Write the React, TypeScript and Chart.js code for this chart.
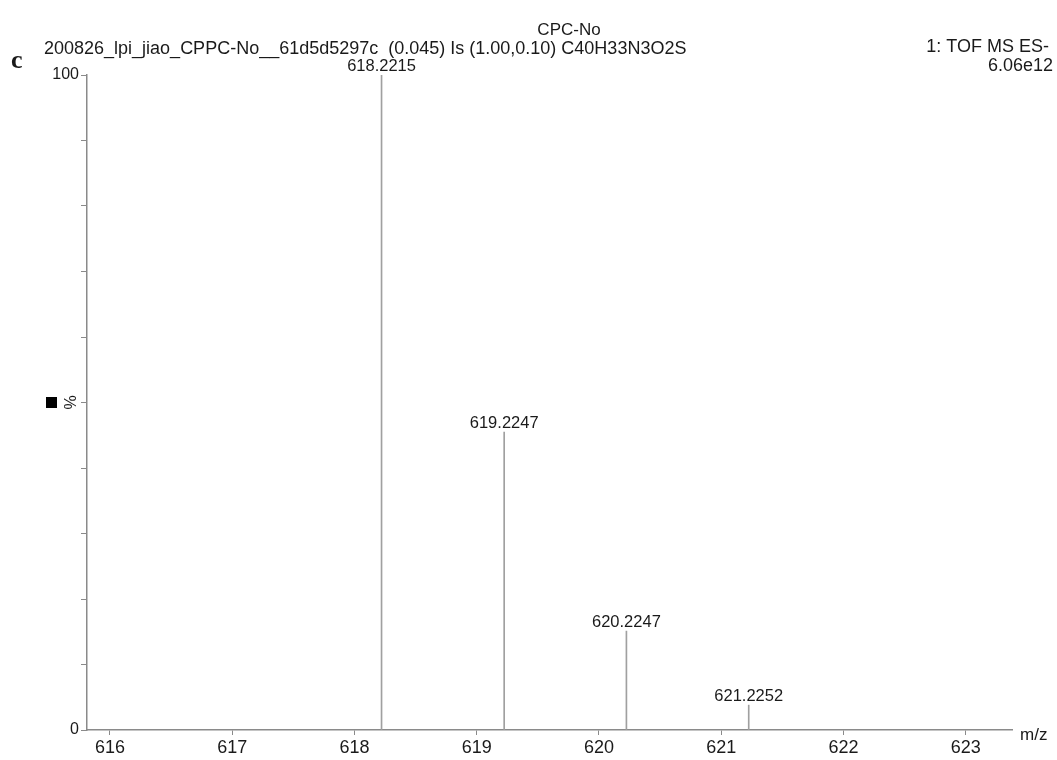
import React, { useEffect, useRef } from "react";
import { Chart, registerables } from "chart.js";

Chart.register(...registerables);

const peakMz = [618.2215, 619.2247, 620.2247, 621.2252];
const peakIntensity = [100, 45.5, 15.1, 3.8];
const peakLabels = ["618.2215", "619.2247", "620.2247", "621.2252"];
const xTicks = [616, 617, 618, 619, 620, 621, 622, 623];
const yTickLabels = [0, 100];

const titleText = "CPC-No";
const subtitleText = "200826_lpi_jiao_CPPC-No__61d5d5297c  (0.045) Is (1.00,0.10) C40H33N3O2S";
const instrumentText = "1: TOF MS ES-";
const scaleText = "6.06e12";
const panelLetter = "c";
const xAxisTitle = "m/z";
const yAxisTitle = "%";

const FONT = "'Liberation Sans', Arial, sans-serif";
const AXIS = "#8a8a8a";
const TEXT = "#1a1a1a";

export default function App() {
  const ref = useRef<HTMLCanvasElement | null>(null);

  useEffect(() => {
    const canvas = ref.current;
    if (!canvas) return;

    const overlay = {
      id: "overlay",
      afterDraw(chart: any) {
        const ctx = chart.ctx;
        const area = chart.chartArea;
        ctx.save();
        ctx.fillStyle = TEXT;
        ctx.textBaseline = "middle";
        // header
        ctx.font = `17px ${FONT}`;
        ctx.textAlign = "center";
        ctx.fillText(titleText, 569, 30);
        ctx.font = `18px ${FONT}`;
        ctx.textAlign = "left";
        ctx.fillText(subtitleText, 44, 49);
        ctx.textAlign = "right";
        ctx.fillText(instrumentText, 1049, 47);
        ctx.fillText(scaleText, 1053, 66);
        // panel letter
        ctx.textAlign = "left";
        ctx.font = `bold 26px 'Liberation Serif', 'Times New Roman', serif`;
        ctx.fillText(panelLetter, 11, 61);
        // peak labels
        ctx.font = `16.5px ${FONT}`;
        ctx.textAlign = "center";
        ctx.textBaseline = "alphabetic";
        const meta = chart.getDatasetMeta(0);
        meta.data.forEach((el: any, i: number) => {
          ctx.fillText(peakLabels[i], el.x, el.y - 4);
        });
        // x axis title
        ctx.font = `17px ${FONT}`;
        ctx.textAlign = "left";
        ctx.textBaseline = "middle";
        ctx.fillText(xAxisTitle, area.right + 8, area.bottom + 5);
        // y axis title, rotated
        const cy = (area.top + area.bottom) / 2;
        ctx.save();
        ctx.translate(72, cy);
        ctx.rotate(-Math.PI / 2);
        ctx.font = `16px ${FONT}`;
        ctx.textAlign = "center";
        ctx.textBaseline = "middle";
        ctx.fillText(yAxisTitle, 0, 0);
        ctx.restore();
        ctx.fillStyle = "#000";
        ctx.fillRect(46, cy - 5.5, 11, 11);
        ctx.restore();
      },
    };

    const chart = new Chart(canvas, {
      type: "bar",
      data: {
        datasets: [
          {
            data: peakMz.map((x, i) => ({ x, y: peakIntensity[i] })),
            backgroundColor: "#a0a0a0",
            borderWidth: 0,
            barThickness: 1,
          },
        ],
      },
      options: {
        responsive: false,
        animation: false,
        layout: { padding: { top: 75, left: 0, right: 45, bottom: 0 } },
        plugins: {
          legend: { display: false },
          tooltip: { enabled: false },
          title: { display: false },
        },
        scales: {
          x: {
            type: "linear",
            min: 615.812,
            max: 623.379,
            offset: false,
            afterFit: (s: any) => {
              s.height = 30;
            },
            afterBuildTicks: (s: any) => {
              s.ticks = xTicks.map((v) => ({ value: v }));
            },
            ticks: {
              stepSize: 1,
              includeBounds: false,
              color: TEXT,
              font: { family: FONT, size: 18 },
              padding: 2,
              maxRotation: 0,
              autoSkip: false,
            },
            grid: {
              offset: false,
              drawOnChartArea: false,
              drawTicks: true,
              tickLength: 5,
              tickColor: AXIS,
              tickWidth: 1,
            },
            border: { color: AXIS, width: 1.5 },
          },
          y: {
            type: "linear",
            min: 0,
            max: 100,
            afterFit: (s: any) => {
              s.width = 87;
            },
            ticks: {
              stepSize: 10,
              color: TEXT,
              font: { family: FONT, size: 16 },
              padding: 2,
              callback: (v: any) => (yTickLabels.includes(Number(v)) ? String(v) : ""),
            },
            grid: {
              drawOnChartArea: false,
              drawTicks: true,
              tickLength: 6,
              tickColor: AXIS,
              tickWidth: 1,
            },
            border: { color: AXIS, width: 1.5 },
          },
        },
      },
      plugins: [overlay],
    });

    return () => chart.destroy();
  }, []);

  return (
    <div style={{ position: "absolute", left: 0, top: 0, width: 1057, height: 760, background: "#fff" }}>
      <canvas ref={ref} width={1057} height={760} style={{ display: "block" }} />
    </div>
  );
}
